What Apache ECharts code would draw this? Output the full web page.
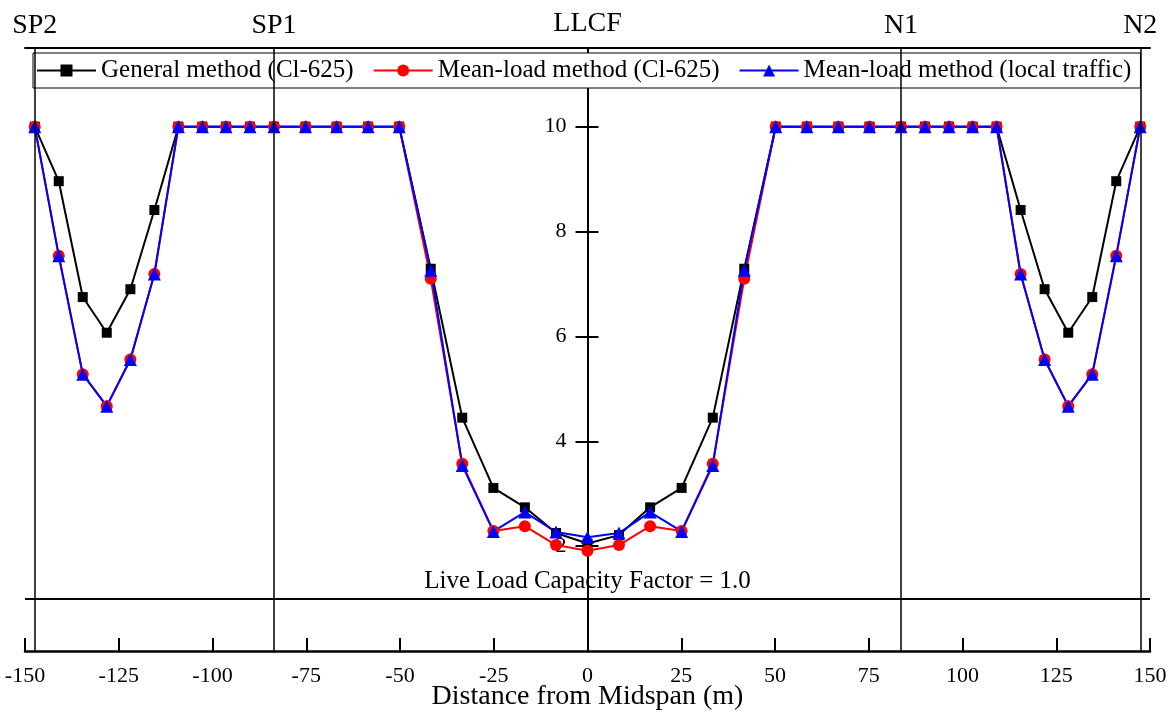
<!DOCTYPE html>
<html><head><meta charset="utf-8">
<script src="https://cdn.jsdelivr.net/npm/echarts@6/dist/echarts.min.js"></script>
<style>html,body{margin:0;padding:0;background:#fff}#c{width:1171px;height:715px}</style>
</head><body><div id="c"></div>
<script>
// Distance from midspan (m)
const distance = [-147.4,-141.0,-134.6,-128.2,-121.9,-115.5,-109.1,-102.7,-96.4,-90.0,-83.6,
  -75.2,-66.9,-58.5,-50.2,-41.8,-33.4,-25.1,-16.7,-8.4,0,8.4,16.7,25.1,33.4,41.8,50.2,58.5,66.9,75.2,83.6,
  90.0,96.4,102.7,109.1,115.5,121.9,128.2,134.6,141.0,147.4];
const generalCl625 = [10,8.96,6.75,6.07,6.90,8.41,10,10,10,10,10,
  10,10,10,10,7.29,4.45,3.11,2.74,2.25,2.05,2.21,2.74,3.11,4.45,7.29,10,10,10,10,10,
  10,10,10,10,8.41,6.90,6.07,6.75,8.96,10];
const meanLoadCl625 = [10,7.54,5.28,4.67,5.56,7.19,10,10,10,10,10,
  10,10,10,10,7.10,3.57,2.29,2.38,2.02,1.91,2.02,2.38,2.29,3.57,7.10,10,10,10,10,10,
  10,10,10,10,7.19,5.56,4.67,5.28,7.54,10];
const meanLoadLocal = [10,7.54,5.28,4.67,5.56,7.19,10,10,10,10,10,
  10,10,10,10,7.26,3.54,2.28,2.65,2.27,2.17,2.25,2.65,2.28,3.54,7.26,10,10,10,10,10,
  10,10,10,10,7.19,5.56,4.67,5.28,7.54,10];
const seriesNames = ['General method (Cl-625)','Mean-load method (Cl-625)','Mean-load method (local traffic)'];
const piers = [-147.4,-83.6,83.6,147.4];
const pierNames = ['SP2','SP1','N1','N2'];
const yTickValues = [2,4,6,8,10];
const capacityLevel = 1.0;
const capacityText = 'Live Load Capacity Factor = 1.0';

const FONT = 'Liberation Serif';
const zip = arr => distance.map((d,i)=>[d,arr[i]]);

const GRID = {left:25,right:21,top:48,bottom:64};
const W = 1171;
// place the y axis at the middle of the plot (x = 0 of the symmetric x range)
const yOffset = -((W - GRID.left - GRID.right) / 2);

const chart = echarts.init(document.getElementById('c'), null, {renderer:'canvas'});
const markData = piers.map((p,i)=>({
  xAxis: p,
  lineStyle:{color:'#000',width:1.5,type:'solid'},
  label:{show:true,position:'end',formatter:pierNames[i],distance:8,
    fontFamily:FONT,fontSize:28,color:'#000'}
}));
markData.push({
  yAxis: capacityLevel,
  lineStyle:{color:'#000',width:2,type:'solid'},
  label:{show:true,position:'insideMiddleTop',formatter:capacityText,distance:5,
    fontFamily:FONT,fontSize:25,color:'#000'}
});

const yCommon = {type:'value',min:0,max:11.5,interval:2,position:'left',offset:yOffset,
  splitLine:{show:false}};

chart.setOption({
  backgroundColor:'#fff',
  animation:false,
  textStyle:{fontFamily:FONT,color:'#000'},
  grid:Object.assign({containLabel:false,outerBoundsMode:'none'}, GRID),
  legend:{
    data:seriesNames,left:33,top:53,
    padding:[5,9,5,3],itemGap:19,itemWidth:59,itemHeight:15,
    backgroundColor:'#fff',borderColor:'#000',borderWidth:1,
    textStyle:{fontFamily:FONT,fontSize:25,color:'#000'}
  },
  xAxis:[
    {type:'value',position:'bottom',min:-150,max:150,interval:25,
      name:'Distance from Midspan (m)',nameLocation:'middle',nameGap:32,nameMoveOverlap:false,
      nameTextStyle:{fontFamily:FONT,fontSize:28,color:'#000'},
      splitLine:{show:false},
      axisLine:{show:true,onZero:false,lineStyle:{color:'#000',width:2.5}},
      axisTick:{show:true,inside:true,length:13,lineStyle:{color:'#000',width:2}},
      axisLabel:{fontFamily:FONT,fontSize:22,color:'#000',margin:14}},
    {type:'value',position:'top',min:-150,max:150,interval:25,
      splitLine:{show:false},
      axisLine:{show:true,onZero:false,lineStyle:{color:'#000',width:2}},
      axisTick:{show:false},axisLabel:{show:false}}
  ],
  yAxis:[
    Object.assign({}, yCommon, {
      name:'LLCF',nameLocation:'end',nameGap:10,
      nameTextStyle:{fontFamily:FONT,fontSize:28,color:'#000'},
      axisLine:{show:true,onZero:false,lineStyle:{color:'#000',width:2}},
      axisTick:{show:true,inside:false,length:12,customValues:yTickValues,lineStyle:{color:'#000',width:2}},
      axisLabel:{fontFamily:FONT,fontSize:22,color:'#000',margin:21,customValues:yTickValues}
    }),
    Object.assign({}, yCommon, {
      axisLine:{show:true,onZero:false,lineStyle:{color:'#000',width:2}},
      axisTick:{show:true,inside:true,length:11,customValues:yTickValues,lineStyle:{color:'#000',width:2}},
      axisLabel:{show:false}
    })
  ],
  series:[
    {name:seriesNames[0],type:'line',data:zip(generalCl625),
      symbol:'rect',symbolSize:10,color:'#000',
      lineStyle:{color:'#000',width:2},itemStyle:{color:'#000'},
      markLine:{silent:true,symbol:['none','none'],animation:false,data:markData}},
    {name:seriesNames[1],type:'line',data:zip(meanLoadCl625),
      symbol:'circle',symbolSize:12,color:'#ff0000',
      lineStyle:{color:'#ff0000',width:2},itemStyle:{color:'#ff0000'}},
    {name:seriesNames[2],type:'line',data:zip(meanLoadLocal),
      symbol:'triangle',symbolSize:13,color:'#0000ff',
      lineStyle:{color:'#0000ff',width:2},itemStyle:{color:'#0000ff'}}
  ]
});
</script></body></html>
